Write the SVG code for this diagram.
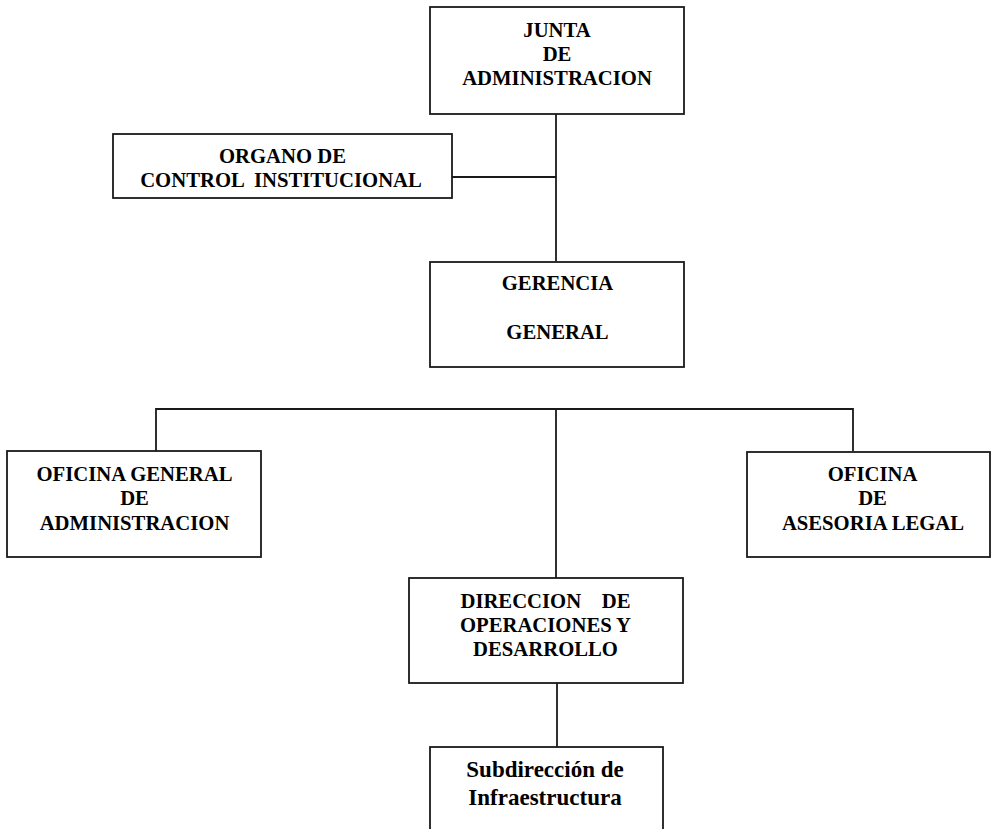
<svg xmlns="http://www.w3.org/2000/svg" width="992" height="829" viewBox="0 0 992 829">
<style>
.box{fill:#fff;stroke:#1a1a1a;stroke-width:1.8}
.ln{fill:none;stroke:#1a1a1a;stroke-width:1.8}
text{font-family:"Liberation Serif","DejaVu Serif",serif;font-size:20.7px;font-weight:bold;fill:#000;text-anchor:middle;white-space:pre}
.s{font-size:23px}
</style>
<rect width="992" height="829" fill="#fff"/>
<g id="connectors">
<path class="ln" d="M556,114V261"/>
<path class="ln" d="M452,177H556"/>
<path class="ln" d="M156,451V409H853V451"/>
<path class="ln" d="M556,409V578"/>
<path class="ln" d="M557,683V747"/>
</g>
<g id="junta">
<rect class="box" x="430" y="7" width="254" height="107"/>
<text x="557" y="37">JUNTA</text>
<text x="557" y="60.5">DE</text>
<text x="557" y="84.5">ADMINISTRACION</text>
</g>
<g id="organo">
<rect class="box" x="113" y="134" width="339" height="64"/>
<text x="282.5" y="163">ORGANO DE</text>
<text x="281" y="187" xml:space="preserve">CONTROL  INSTITUCIONAL</text>
</g>
<g id="gerencia">
<rect class="box" x="430" y="262" width="254" height="105"/>
<text x="557.5" y="290">GERENCIA</text>
<text x="557.5" y="339">GENERAL</text>
</g>
<g id="oficina-administracion">
<rect class="box" x="7" y="451" width="254" height="106"/>
<text x="134.5" y="481">OFICINA GENERAL</text>
<text x="134.5" y="505">DE</text>
<text x="134.5" y="530">ADMINISTRACION</text>
</g>
<g id="oficina-asesoria">
<rect class="box" x="747" y="452" width="243" height="105"/>
<text x="872.5" y="481">OFICINA</text>
<text x="872.5" y="505">DE</text>
<text x="873" y="530">ASESORIA LEGAL</text>
</g>
<g id="direccion">
<rect class="box" x="409" y="578" width="274" height="105"/>
<text x="545.5" y="608" xml:space="preserve">DIRECCION    DE</text>
<text x="545.5" y="632">OPERACIONES Y</text>
<text x="545.5" y="656">DESARROLLO</text>
</g>
<g id="subdireccion">
<rect class="box" x="430" y="747" width="233" height="100"/>
<text class="s" x="545" y="777">Subdirección de</text>
<text class="s" x="545" y="805">Infraestructura</text>
</g>
</svg>
